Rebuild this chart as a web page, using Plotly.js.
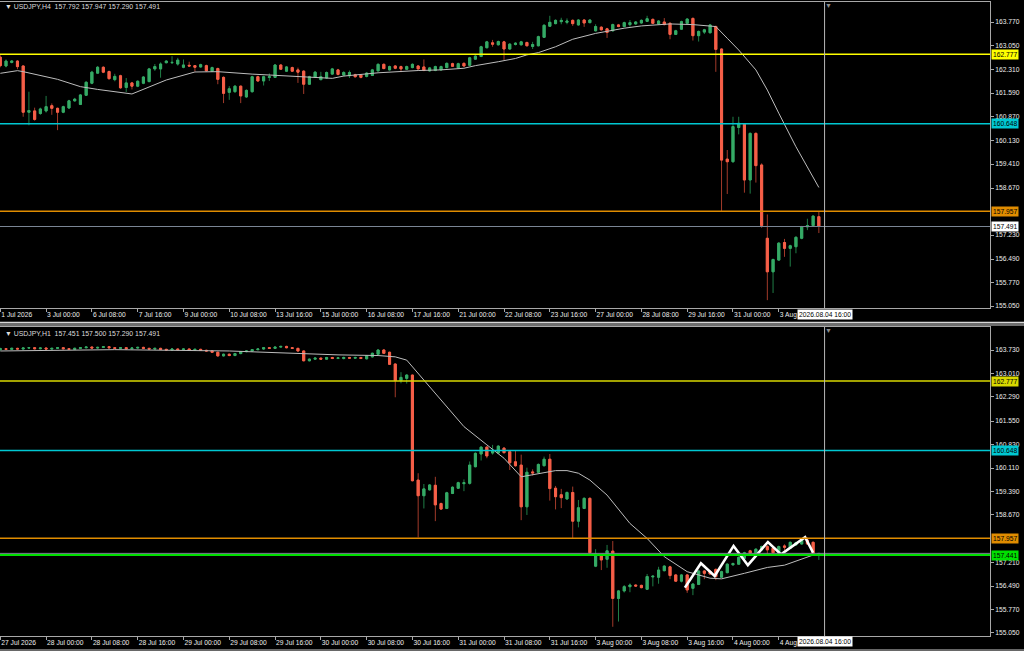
<!DOCTYPE html>
<html><head><meta charset="utf-8">
<script src="https://cdn.plot.ly/plotly-3.0.1.min.js"></script>
<style>html,body{margin:0;padding:0;background:#000;overflow:hidden}#chart{width:1024px;height:651px}</style>
</head><body><div id="chart"></div>
<script>
// ---------- DATA ----------
const symbol = 'USDJPY';
// H4 panel (index 0 = 1 Jul 16:00 ... 143 = 4 Aug 12:00)
const h4Open = [162.69,162.42,162.53,162.57,162.42,161.00,161.04,160.96,161.04,161.20,161.12,161.00,161.13,161.35,161.24,161.52,161.89,162.20,162.38,162.25,162.00,162.12,161.76,161.90,161.80,161.89,161.94,162.33,162.33,162.52,162.52,162.48,162.38,162.44,162.43,162.39,162.43,162.26,162.34,162.07,161.61,161.63,161.80,161.47,161.63,162.09,161.96,162.07,162.07,162.45,162.26,162.37,162.30,162.26,161.86,162.07,162.00,162.05,162.17,162.30,162.14,162.12,162.15,162.14,162.10,162.13,162.27,162.47,162.30,162.42,162.40,162.32,162.37,162.42,162.39,162.27,162.28,162.30,162.37,162.49,162.36,162.50,162.44,162.63,162.71,162.98,163.13,163.07,163.16,162.94,163.08,163.07,163.14,163.02,163.04,163.30,163.64,163.72,163.78,163.76,163.82,163.68,163.83,163.75,163.50,163.61,163.56,163.50,163.68,163.63,163.69,163.71,163.74,163.79,163.85,163.71,163.77,163.73,163.39,163.55,163.73,163.88,163.35,163.46,163.44,163.63,162.94,159.56,159.48,160.53,160.63,158.92,160.35,159.38,157.13,156.10,156.46,157.00,156.82,156.87,157.13,157.48,157.52,157.792];
const h4High = [162.75,162.62,162.60,162.60,162.44,161.63,161.14,161.14,161.50,161.27,161.14,161.20,161.38,161.44,161.56,161.95,162.27,162.42,162.41,162.28,162.18,162.15,162.05,161.93,161.98,162.11,162.36,162.48,162.53,162.60,162.72,162.67,162.62,162.55,162.45,162.49,162.46,162.40,162.37,162.10,161.80,161.83,161.82,161.70,162.12,162.12,162.12,162.19,162.48,162.48,162.42,162.40,162.37,162.29,162.12,162.26,162.24,162.25,162.36,162.33,162.26,162.28,162.18,162.17,162.23,162.33,162.50,162.50,162.43,162.45,162.43,162.43,162.50,162.45,162.62,162.39,162.43,162.43,162.53,162.52,162.52,162.53,162.70,162.75,163.04,163.19,163.22,163.20,163.19,163.12,163.15,163.19,163.17,163.16,163.35,163.70,163.96,163.85,163.90,163.88,163.85,163.86,163.86,163.86,163.70,163.64,163.59,163.72,163.71,163.78,163.83,163.80,163.85,163.96,163.88,163.83,163.89,163.76,163.53,163.81,163.89,163.91,163.51,163.56,163.71,163.66,162.96,159.84,160.86,160.86,160.66,160.38,160.38,159.43,157.86,156.50,157.01,157.11,156.93,157.19,157.51,157.73,157.84,157.947];
const h4Low = [162.38,162.38,162.50,162.32,160.86,160.60,160.74,160.92,160.99,160.92,160.45,160.97,161.10,161.32,161.22,161.50,161.86,162.18,162.20,162.00,161.95,161.72,161.62,161.70,161.77,161.86,161.92,162.27,162.06,162.50,162.48,162.43,162.35,162.40,162.25,162.37,162.25,162.24,161.86,161.28,161.38,161.60,161.28,161.44,161.60,161.93,161.82,161.96,162.05,162.30,162.24,162.24,161.90,161.56,161.84,162.05,161.98,162.03,162.15,162.13,162.10,162.05,162.06,162.04,162.07,162.11,162.25,162.32,162.28,162.32,162.23,162.30,162.35,162.31,162.26,162.25,162.26,162.28,162.35,162.39,162.34,162.40,162.42,162.61,162.69,162.96,163.01,163.05,162.60,162.92,163.05,163.05,163.02,162.94,163.02,163.28,163.62,163.70,163.70,163.70,163.65,163.66,163.62,163.73,163.48,163.51,163.28,163.48,163.61,163.61,163.63,163.69,163.72,163.77,163.71,163.69,163.67,163.24,163.37,163.53,163.71,163.20,163.17,163.40,163.42,162.24,157.97,158.49,159.45,160.32,158.53,158.50,158.84,157.45,155.23,155.45,156.44,156.56,156.26,156.67,157.10,157.38,157.50,157.290];
const h4Close = [162.43,162.57,162.57,162.40,161.00,161.05,160.78,161.10,161.17,161.12,161.00,161.17,161.35,161.40,161.53,161.92,162.23,162.38,162.23,162.03,162.10,161.75,161.90,161.80,161.95,162.08,162.33,162.40,162.48,162.57,162.53,162.60,162.45,162.42,162.38,162.46,162.27,162.37,162.01,161.58,161.72,161.80,161.50,161.67,162.09,161.96,162.09,162.09,162.45,162.32,162.39,162.26,162.23,161.86,162.09,162.23,162.09,162.22,162.33,162.16,162.22,162.22,162.09,162.07,162.20,162.30,162.47,162.34,162.40,162.35,162.33,162.40,162.47,162.33,162.28,162.36,162.40,162.40,162.50,162.41,162.49,162.42,162.67,162.72,163.01,163.16,163.09,163.17,162.94,163.09,163.12,163.16,163.04,163.08,163.32,163.67,163.76,163.82,163.82,163.80,163.72,163.83,163.74,163.83,163.63,163.53,163.45,163.69,163.63,163.75,163.75,163.77,163.82,163.87,163.73,163.80,163.69,163.39,163.50,163.78,163.86,163.35,163.48,163.53,163.68,162.93,159.53,159.48,160.56,160.66,158.92,160.35,159.36,157.52,156.10,156.48,156.98,156.82,156.90,157.16,157.48,157.52,157.81,157.491];
const h4TickIdx = [0,8,16,24,32,40,48,56,64,72,80,88,96,104,112,120,128,136];
// last label is cut by the cursor date box in the reference: only "3 Aug" shows
const h4TickText = ['1 Jul 2026','3 Jul 00:00','6 Jul 08:00','7 Jul 16:00','9 Jul 00:00','10 Jul 08:00','13 Jul 16:00','15 Jul 00:00','16 Jul 08:00','17 Jul 16:00','21 Jul 00:00','22 Jul 08:00','23 Jul 16:00','27 Jul 00:00','28 Jul 08:00','29 Jul 16:00','31 Jul 00:00','3 Aug'];
const h4PriceTicks = [163.770,163.050,162.310,161.590,160.870,160.130,159.410,158.670,157.230,156.490,155.770,155.050];
const h4MaIdx = [0,3,4,10,14,17,23,29,34,38,44,46,51,58,60,66,73,77,81,83,87,90,92,94,97,100,104,106,109,112,117,121,125,127,129,132,134,136,139,143];
const h4MaVal = [162.195,162.276,162.245,162.01,161.785,161.70,161.56,161.99,162.235,162.245,162.17,162.15,162.11,162.04,162.11,162.21,162.28,162.30,162.35,162.43,162.55,162.65,162.76,162.83,163.01,163.24,163.42,163.49,163.58,163.65,163.71,163.69,163.63,163.27,162.91,162.30,161.68,160.97,159.94,158.69];

// H1 panel (index 0 = 27 Jul 16:00 ... 143 = 4 Aug 15:00)
const h1Open = [163.74,163.77,163.75,163.78,163.76,163.79,163.80,163.77,163.79,163.76,163.78,163.80,163.77,163.75,163.78,163.80,163.82,163.79,163.81,163.83,163.80,163.78,163.80,163.77,163.79,163.81,163.78,163.76,163.78,163.75,163.73,163.76,163.74,163.76,163.73,163.75,163.72,163.70,163.66,163.55,163.60,163.56,163.62,163.68,163.70,163.74,163.76,163.80,163.78,163.82,163.84,163.80,163.78,163.70,163.40,163.45,163.48,163.45,163.50,163.47,163.47,163.50,163.48,163.50,163.46,163.52,163.60,163.73,163.66,163.30,162.79,162.86,162.96,159.74,159.26,159.44,159.58,159.02,158.87,159.33,159.49,159.63,159.64,160.15,160.54,160.75,160.57,160.57,160.72,160.61,160.30,160.20,158.92,159.99,159.98,160.18,160.38,159.49,159.29,159.16,159.36,158.48,158.87,159.18,157.10,157.44,157.31,157.56,156.11,156.34,156.47,156.52,156.51,156.39,156.77,156.76,156.96,157.08,156.83,156.64,156.83,156.42,156.54,156.95,156.94,157.00,156.76,156.90,157.14,157.16,157.34,157.57,157.49,157.60,157.70,157.65,157.51,157.72,157.65,157.75,157.78,157.90,157.83,157.451];
const h1High = [163.80,163.79,163.80,163.80,163.81,163.82,163.82,163.81,163.81,163.80,163.82,163.82,163.79,163.80,163.82,163.84,163.84,163.83,163.85,163.85,163.82,163.82,163.82,163.81,163.83,163.83,163.80,163.80,163.80,163.77,163.78,163.78,163.78,163.78,163.77,163.77,163.74,163.72,163.68,163.62,163.62,163.64,163.70,163.72,163.76,163.78,163.82,163.82,163.84,163.86,163.86,163.82,163.80,163.72,163.47,163.50,163.50,163.52,163.52,163.51,163.53,163.52,163.53,163.52,163.57,163.65,163.75,163.76,163.68,163.32,163.05,162.99,162.98,159.95,159.62,159.62,159.84,159.05,159.38,159.55,159.69,159.76,160.31,160.59,160.78,160.78,160.82,160.81,160.75,160.64,160.64,160.52,160.12,160.07,160.25,160.46,160.54,159.56,159.47,159.39,159.54,159.13,159.21,159.21,157.62,157.47,157.75,157.87,156.37,156.52,156.57,156.54,156.53,156.86,156.82,157.08,157.13,157.11,156.86,156.86,156.86,156.58,156.98,156.98,156.97,157.03,156.96,157.19,157.21,157.40,157.54,157.60,157.65,157.73,157.75,157.68,157.73,157.77,157.86,157.85,157.93,157.98,157.86,157.500];
const h1Low = [163.71,163.73,163.73,163.74,163.74,163.77,163.75,163.75,163.74,163.74,163.76,163.75,163.73,163.73,163.76,163.78,163.77,163.77,163.79,163.78,163.76,163.76,163.75,163.75,163.77,163.76,163.74,163.74,163.73,163.71,163.71,163.72,163.72,163.71,163.71,163.70,163.68,163.64,163.52,163.53,163.54,163.54,163.60,163.66,163.68,163.72,163.74,163.76,163.76,163.80,163.78,163.76,163.68,163.38,163.38,163.43,163.43,163.43,163.45,163.45,163.44,163.46,163.46,163.45,163.44,163.50,163.58,163.61,163.27,162.28,162.71,162.70,159.70,157.98,158.87,159.42,158.48,158.83,158.85,159.31,159.47,159.40,159.60,160.13,160.34,160.41,160.52,160.55,160.56,160.05,160.15,158.51,158.67,159.88,159.96,160.16,159.11,158.84,158.88,159.14,157.94,158.29,158.85,157.48,157.07,156.98,157.05,155.24,155.40,156.29,156.30,156.46,156.42,156.37,156.48,156.56,156.94,156.70,156.62,156.60,156.28,156.21,156.52,156.70,156.84,156.67,156.74,156.88,157.12,157.14,157.32,157.48,157.47,157.58,157.45,157.49,157.49,157.58,157.63,157.73,157.76,157.76,157.47,157.290];
const h1Close = [163.77,163.75,163.78,163.76,163.79,163.80,163.77,163.79,163.76,163.78,163.80,163.77,163.75,163.78,163.80,163.82,163.79,163.81,163.83,163.80,163.78,163.80,163.77,163.79,163.81,163.78,163.76,163.78,163.75,163.73,163.76,163.74,163.76,163.73,163.75,163.72,163.70,163.66,163.55,163.60,163.56,163.62,163.68,163.70,163.74,163.76,163.80,163.78,163.82,163.84,163.80,163.78,163.70,163.40,163.45,163.48,163.45,163.50,163.47,163.49,163.50,163.48,163.50,163.47,163.55,163.63,163.73,163.63,163.29,162.79,162.89,162.96,159.72,159.26,159.47,159.59,158.98,158.85,159.35,159.52,159.66,159.66,160.20,160.56,160.75,160.48,160.65,160.78,160.58,160.27,160.18,158.92,159.98,159.96,160.22,160.38,159.48,159.23,159.20,159.36,158.48,158.89,159.18,157.51,157.47,157.29,157.57,156.11,156.34,156.47,156.52,156.49,156.44,156.78,156.79,156.98,157.10,156.81,156.64,156.83,156.37,156.55,156.95,156.88,156.86,156.78,156.93,157.16,157.18,157.37,157.51,157.50,157.62,157.70,157.60,157.51,157.70,157.68,157.83,157.82,157.90,157.78,157.49,157.491];
const h1TickIdx = [0,8,16,24,32,40,48,56,64,72,80,88,96,104,112,120,128,136];
const h1TickText = ['27 Jul 2026','28 Jul 00:00','28 Jul 08:00','28 Jul 16:00','29 Jul 00:00','29 Jul 08:00','29 Jul 16:00','30 Jul 00:00','30 Jul 08:00','30 Jul 16:00','31 Jul 00:00','31 Jul 08:00','31 Jul 16:00','3 Aug 00:00','3 Aug 08:00','3 Aug 16:00','4 Aug 00:00','4 Aug'];
const h1PriceTicks = [163.730,163.010,162.290,161.550,160.830,160.110,159.390,158.670,157.210,156.490,155.770,155.050];
const h1MaIdx = [0,20,40,59,66,69,71,74,77,81,85,88,91,93,97,99,101,103,106,110,113,116,120,124,126,130,134,137,142];
const h1MaVal = [163.70,163.74,163.70,163.58,163.56,163.52,163.42,162.81,162.20,161.38,160.82,160.41,159.84,159.90,160.03,160.03,159.95,159.74,159.28,158.41,157.95,157.39,156.93,156.73,156.71,156.88,157.06,157.13,157.44];
// hand-drawn zigzag on H1 chart
const zigIdx = [119.6,122.4,124.8,128.1,130.6,134.1,136.4,140.6,142.0];
const zigVal = [156.44,157.19,156.80,157.72,157.13,157.84,157.46,157.99,157.51];

// horizontal levels
const levelVals = [162.777, 160.648, 157.957];
const levelNames = ['yellow','cyan','orange'];
const h1ExtraLevel = 157.441;
const bidPrice = 157.491;
const cursorIdx = 144;
const cursorText = '2026.08.04 16:00';

// ---------- STYLE ----------
const FONT = 'Liberation Sans, Arial, sans-serif';
const AX = '#a8a8a8';
const TXT = '#ececec';
const UP_BODY = '#36aa66', DN_BODY = '#f65f48';
const UP_WICK = '#1f7d46', DN_WICK = '#a23a2a';
const lvlColTop = {yellow:'#ffff00', cyan:'#00c8d2', orange:'#e08c00'};
const lvlColBot = {yellow:'#d8d800', cyan:'#00c8d2', orange:'#e08c00'};
const W = 1024, H = 651;
const px = v => v / W, py = v => 1 - v / H;

function panel(O, Hh, L, C, xa, ya) {
  const x = O.map((_, i) => i);
  const bodyHi = O.map((o, i) => Math.max(o, C[i]));
  const bodyLo = O.map((o, i) => Math.min(o, C[i]));
  return [
    {type:'candlestick', x, open:O, high:Hh, low:L, close:C, xaxis:xa, yaxis:ya, hoverinfo:'skip',
     increasing:{line:{color:UP_WICK, width:1}, fillcolor:UP_BODY},
     decreasing:{line:{color:DN_WICK, width:1}, fillcolor:DN_BODY}, whiskerwidth:0},
    {type:'candlestick', x, open:O, high:bodyHi, low:bodyLo, close:C, xaxis:xa, yaxis:ya, hoverinfo:'skip',
     increasing:{line:{color:UP_BODY, width:1}, fillcolor:UP_BODY},
     decreasing:{line:{color:DN_BODY, width:1}, fillcolor:DN_BODY}, whiskerwidth:0}
  ];
}

const traces = [
  ...panel(h4Open, h4High, h4Low, h4Close, 'x', 'y'),
  {type:'scatter', mode:'lines', x:h4MaIdx, y:h4MaVal, xaxis:'x', yaxis:'y', line:{color:'#bdbdbd', width:1}, hoverinfo:'skip'},
  ...panel(h1Open, h1High, h1Low, h1Close, 'x2', 'y2'),
  {type:'scatter', mode:'lines', x:h1MaIdx, y:h1MaVal, xaxis:'x2', yaxis:'y2', line:{color:'#bdbdbd', width:1}, hoverinfo:'skip'},
  {type:'scatter', mode:'lines', x:zigIdx, y:zigVal, xaxis:'x2', yaxis:'y2', line:{color:'#ffffff', width:2.6}, hoverinfo:'skip'}
];

const xRange = [-0.052, 172.9];
const tickFont = {family:FONT, size:6.7, color:TXT};
function xax(anchor, tv, tt) {
  return {domain:[0, px(990)], range:xRange, anchor, tickvals:tv, ticktext:tt, ticks:'outside', ticklen:3,
    tickcolor:AX, showgrid:false, zeroline:false, showline:true, linecolor:AX, linewidth:1, mirror:true,
    tickfont:tickFont, ticklabelposition:'outside right', rangeslider:{visible:false}, fixedrange:true};
}
function yax(anchor, dom, rng, tv) {
  return {domain:dom, range:rng, anchor, side:'right', tickvals:tv, tickformat:'.3f', ticks:'outside', ticklen:3,
    tickcolor:AX, showgrid:false, zeroline:false, showline:true, linecolor:AX, linewidth:1, mirror:false,
    tickfont:tickFont, fixedrange:true};
}

const shapes = [];
const annotations = [];
function hline(y, yref, color, width) {
  shapes.push({type:'line', xref:'paper', x0:0, x1:px(990), yref, y0:y, y1:y, line:{color, width}});
}
function tag(y, yref, text, bg) {
  annotations.push({xref:'paper', x:px(991), xanchor:'left', yref, y, yanchor:'middle', text, showarrow:false,
    bgcolor:bg, borderpad:1, font:{family:FONT, size:6.7, color:'#000'}});
}
// H4 levels
levelVals.forEach((v, k) => { hline(v, 'y', lvlColTop[levelNames[k]], 1.5); tag(v, 'y', v.toFixed(3), lvlColTop[levelNames[k]]); });
hline(bidPrice, 'y', '#7a8594', 1); tag(bidPrice, 'y', bidPrice.toFixed(3), '#ffffff');
// H1 levels
levelVals.forEach((v, k) => { hline(v, 'y2', lvlColBot[levelNames[k]], 1.5); tag(v, 'y2', v.toFixed(3), lvlColBot[levelNames[k]]); });
hline(bidPrice, 'y2', '#7a8594', 1);
hline(h1ExtraLevel, 'y2', '#00e000', 2); tag(h1ExtraLevel, 'y2', h1ExtraLevel.toFixed(3), '#00e000');
// cursor lines
[['x','y'],['x2','y2']].forEach(([xa, ya]) => {
  shapes.push({type:'line', xref:xa, x0:cursorIdx, x1:cursorIdx, yref:ya + ' domain', y0:0, y1:1, line:{color:'#b8b8b8', width:1}});
});
annotations.push({xref:'x', x:cursorIdx, xanchor:'center', yref:'paper', y:py(314.5), yanchor:'middle', text:cursorText, showarrow:false, bgcolor:'#ffffff', borderpad:1, font:{family:FONT, size:6.7, color:'#000'}});
annotations.push({xref:'x2', x:cursorIdx, xanchor:'center', yref:'paper', y:py(641.5), yanchor:'middle', text:cursorText, showarrow:false, bgcolor:'#ffffff', borderpad:1, font:{family:FONT, size:6.7, color:'#000'}});
// shift markers
annotations.push({xref:'x', x:cursorIdx + 0.7, xanchor:'center', yref:'paper', y:py(6), yanchor:'middle', text:'▼', showarrow:false, font:{family:FONT, size:7, color:'#8c8c8c'}});
annotations.push({xref:'x2', x:cursorIdx + 0.7, xanchor:'center', yref:'paper', y:py(331), yanchor:'middle', text:'▼', showarrow:false, font:{family:FONT, size:7, color:'#8c8c8c'}});
// panel headers
const f3 = v => v.toFixed(3);
const n4 = h4Open.length - 1, n1 = h1Open.length - 1;
annotations.push({xref:'paper', x:px(3), xanchor:'left', yref:'paper', y:py(6.5), yanchor:'middle', showarrow:false,
  text:'▼ ' + symbol + ',H4\u00a0\u00a0' + [h4Open[n4], h4High[n4], h4Low[n4], h4Close[n4]].map(f3).join(' '),
  font:{family:FONT, size:6.9, color:'#dcdcdc'}});
annotations.push({xref:'paper', x:px(3), xanchor:'left', yref:'paper', y:py(333), yanchor:'middle', showarrow:false,
  text:'▼ ' + symbol + ',H1\u00a0\u00a0' + [h1Open[n1], h1High[n1], h1Low[n1], h1Close[n1]].map(f3).join(' '),
  font:{family:FONT, size:6.9, color:'#dcdcdc'}});
// panel separator and window edge
shapes.push({type:'rect', xref:'paper', yref:'paper', x0:0, x1:1, y0:py(326), y1:py(321.5), fillcolor:'#6e6e6e', line:{width:0}});
shapes.push({type:'line', xref:'paper', yref:'paper', x0:0, x1:1, y0:py(322.5), y1:py(322.5), line:{color:'#d8d8d8', width:1}});
shapes.push({type:'line', xref:'paper', yref:'paper', x0:0, x1:1, y0:py(650), y1:py(650), line:{color:'#8a8a8a', width:1.5}});

const layout = {
  width:W, height:H, margin:{l:0, r:0, t:0, b:0}, paper_bgcolor:'#000', plot_bgcolor:'#000',
  showlegend:false, hovermode:false, dragmode:false, boxgap:0.48, boxmode:'overlay',
  xaxis: xax('y', h4TickIdx, h4TickText),
  yaxis: yax('x', [py(308), py(2)], [154.989, 164.384], h4PriceTicks),
  xaxis2: xax('y2', h1TickIdx, h1TickText),
  yaxis2: yax('x2', [py(636), py(327)], [154.957, 164.4355], h1PriceTicks),
  shapes, annotations
};
Plotly.newPlot('chart', traces, layout, {staticPlot:true, displayModeBar:false});
</script></body></html>
